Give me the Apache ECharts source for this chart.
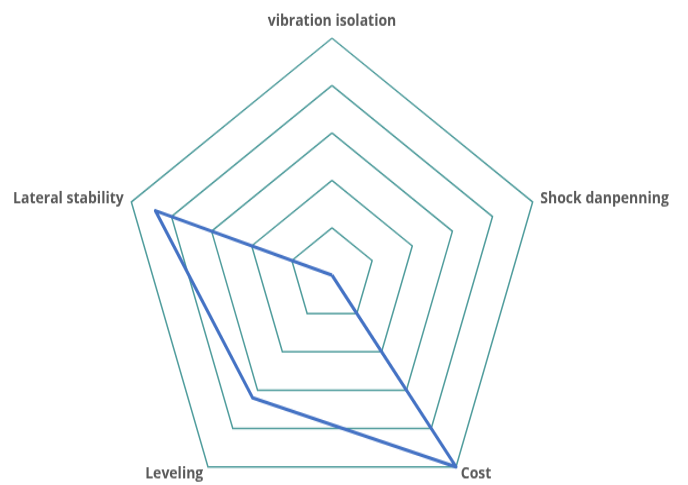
<!DOCTYPE html>
<html>
<head>
<meta charset="utf-8">
<script src="https://cdn.jsdelivr.net/npm/echarts@6/dist/echarts.min.js"></script>
<style>
  html, body { margin: 0; padding: 0; background: #fff; }
  #wrap { width: 688px; height: 485px; overflow: hidden; position: relative; }
  /* the source picture is stretched vertically, so the chart is too */
  #main { width: 688px; height: 432px; transform: scaleY(1.123); transform-origin: 0 0; }
</style>
</head>
<body>
<div id="wrap"><div id="main"></div></div>
<script>
// ECharts lays radar axes out counter-clockwise from the top
var indicators = ['vibration isolation', 'Lateral stability', 'Leveling', 'Cost', 'Shock danpenning'];
var maxValue = 5;
var values = [0, 4.4, 3.2, 5, 0];

var myChart = echarts.init(document.getElementById('main'));

myChart.setOption({
  animation: false,
  radar: {
    center: [332, 245],
    radius: 211,
    startAngle: 90,
    splitNumber: 5,
    shape: 'polygon',
    indicator: indicators.map(function (name) {
      return { name: name, min: 0, max: maxValue };
    }),
    nameGap: 8,
    axisName: {
      color: '#595959',
      fontFamily: 'Open Sans',
      fontWeight: 'bold',
      fontSize: 14
    },
    axisLine: { show: false },
    axisTick: { show: false },
    splitArea: { show: false },
    splitLine: {
      lineStyle: { color: '#4f9c9c', width: 1.5 }
    }
  },
  series: [{
    type: 'radar',
    symbol: 'none',
    lineStyle: { color: '#4472c4', width: 3 },
    data: [{ value: values, name: 'series' }]
  }]
});
</script>
</body>
</html>
